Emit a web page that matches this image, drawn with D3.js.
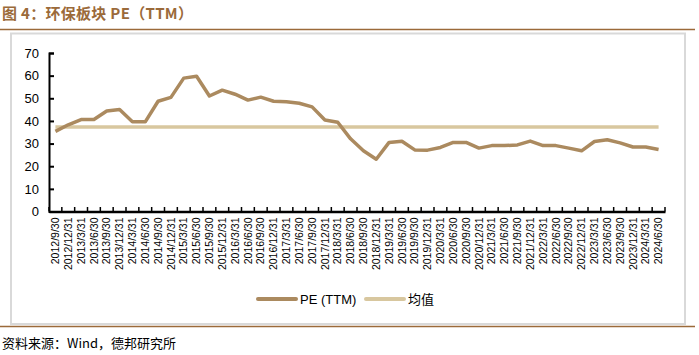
<!DOCTYPE html>
<html><head><meta charset="utf-8">
<script src="https://cdn.jsdelivr.net/npm/d3@7/dist/d3.min.js"></script>
<style>body{margin:0;background:#fff}svg{display:block}</style>
</head><body><svg id="c" width="699" height="355"></svg>
<script>
const categories = ["2012/9/30","2012/12/31","2013/3/31","2013/6/30","2013/9/30","2013/12/31","2014/3/31","2014/6/30","2014/9/30","2014/12/31","2015/3/31","2015/6/30","2015/9/30","2015/12/31","2016/3/31","2016/6/30","2016/9/30","2016/12/31","2017/3/31","2017/6/30","2017/9/30","2017/12/31","2018/3/31","2018/6/30","2018/9/30","2018/12/31","2019/3/31","2019/6/30","2019/9/30","2019/12/31","2020/3/31","2020/6/30","2020/9/30","2020/12/31","2021/3/31","2021/6/30","2021/9/30","2021/12/31","2022/3/31","2022/6/30","2022/9/30","2022/12/31","2023/3/31","2023/6/30","2023/9/30","2023/12/31","2024/3/31","2024/6/30"];
const peValues = [35.4,38.3,40.6,40.6,44.4,45.0,39.6,39.6,48.7,50.4,58.9,59.7,51.0,53.6,51.8,49.2,50.5,48.7,48.5,47.8,46.2,40.4,39.4,32.1,26.8,23.1,30.5,31.0,27.2,27.1,28.3,30.5,30.5,28.0,29.1,29.1,29.4,31.1,29.1,29.1,28.0,26.8,30.9,31.7,30.3,28.5,28.5,27.4];
const avgValue = 37.3;
const yTicks = [0,10,20,30,40,50,60,70];
const seriesNames = ["PE (TTM)","均值"];
const colors = ["#ab8a5f","#d8c79f"];

const svg = d3.select("#c");
const font = "'Liberation Sans', Arial, sans-serif";
const cjk = "'Noto Sans CJK SC', sans-serif";

// title
svg.append("text").attr("x",2).attr("y",19).attr("fill","#9b6a3a")
  .attr("font-family",cjk).attr("font-weight","bold").attr("font-size",15)
  .attr("letter-spacing",0.3)
  .text("图 4：环保板块 PE（TTM）");
svg.append("line").attr("x1",0).attr("x2",695).attr("y1",29.5).attr("y2",29.5)
  .attr("stroke","#9b6a3a").attr("stroke-width",1.5);
// frame
svg.append("rect").attr("x",11).attr("y",33.5).attr("width",674).attr("height",290.5)
  .attr("fill","none").attr("stroke","#d9d9d9").attr("stroke-width",2);
svg.append("line").attr("x1",0).attr("x2",695).attr("y1",326.5).attr("y2",326.5)
  .attr("stroke","#9b6a3a").attr("stroke-width",1.5);
svg.append("text").attr("x",2).attr("y",348).attr("fill","#000")
  .attr("font-family",cjk).attr("font-size",13)
  .text("资料来源：Wind，德邦研究所");

const x = d3.scaleBand().domain(categories).range([49,665]);
const y = d3.scaleLinear().domain([0,70]).range([211.5,53]);

// y axis
const ya = svg.append("g").attr("transform","translate(49,0)")
  .call(d3.axisLeft(y).tickValues(yTicks).tickSize(-5).tickPadding(10));
ya.select(".domain").attr("stroke","#000").attr("stroke-width",2);
ya.selectAll(".tick line").attr("stroke","#000").attr("stroke-width",2);
ya.selectAll("text").attr("font-family",font).attr("font-size",13).attr("fill","#000");

// x axis
const xa = svg.append("g").attr("transform","translate(0,211.5)")
  .call(d3.axisBottom(x).tickSize(0).tickPadding(0));
xa.select(".domain").attr("stroke","#000").attr("stroke-width",2.5);
xa.selectAll(".tick text").attr("font-family",font).attr("font-size",10.5).attr("fill","#000")
  .attr("transform","translate(0,6) rotate(-90)").attr("text-anchor","end")
  .attr("dy","0.35em").attr("x",0).attr("y",0);
// tick marks at band boundaries pointing up
const bounds = categories.map(c=>x(c)).concat([x.range()[1]]);
svg.append("g").selectAll("line").data(bounds).join("line")
  .attr("x1",d=>d).attr("x2",d=>d).attr("y1",211.5).attr("y2",207)
  .attr("stroke","#000").attr("stroke-width",1.5);

const cx = d => x(d) + x.bandwidth()/2;
// mean line
svg.append("path").datum(categories)
  .attr("d", d3.line().x(d=>cx(d)).y(()=>y(avgValue)))
  .attr("fill","none").attr("stroke",colors[1]).attr("stroke-width",3.5);
// PE line
svg.append("path").datum(categories.map((c,i)=>[c,peValues[i]]))
  .attr("d", d3.line().x(d=>cx(d[0])).y(d=>y(d[1])))
  .attr("fill","none").attr("stroke",colors[0]).attr("stroke-width",3.5).attr("stroke-linejoin","round");

// legend
const lg = [{x1:258,x2:296,tx:300,c:colors[0],t:seriesNames[0],f:font},
            {x1:366,x2:404,tx:408,c:colors[1],t:seriesNames[1],f:cjk}];
lg.forEach(l=>{
  svg.append("line").attr("x1",l.x1).attr("x2",l.x2).attr("y1",299).attr("y2",299)
    .attr("stroke",l.c).attr("stroke-width",4).attr("stroke-linecap","round");
  svg.append("text").attr("x",l.tx).attr("y",304).attr("font-family",l.f)
    .attr("font-size",13).attr("fill","#000").text(l.t);
});
</script></body></html>
